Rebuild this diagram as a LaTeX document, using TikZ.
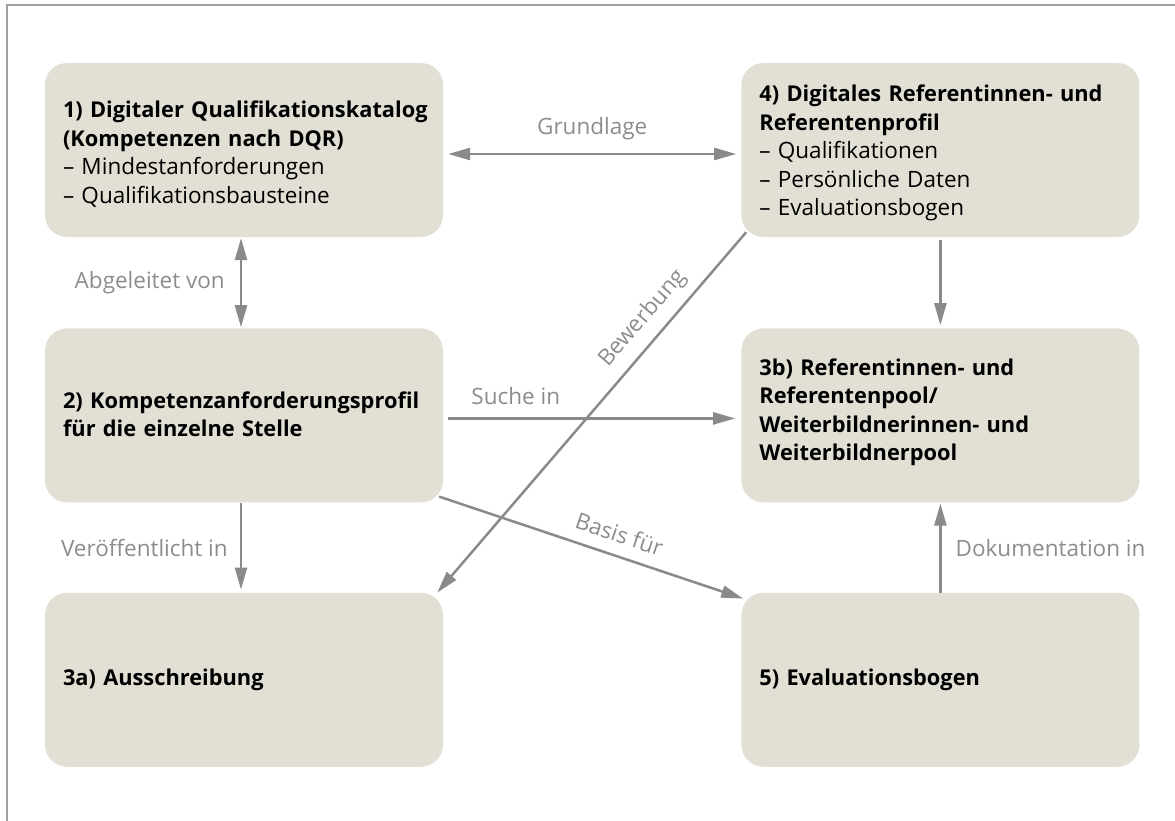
\documentclass[tikz,border=0pt]{standalone}
\usepackage{fontspec}
\setmainfont{Open Sans}
\usetikzlibrary{positioning, arrows.meta}
\definecolor{boxbeige}{RGB}{226,224,213}
\definecolor{arrowgray}{RGB}{138,138,140}
\definecolor{labelgray}{RGB}{140,140,140}
\definecolor{framegray}{RGB}{160,160,160}
\newcommand{\itemfont}{\fontsize{22.5}{28.5}\selectfont\mdseries}
\tikzset{
>={Triangle[length=22pt, width=12pt]}, % filled arrow heads
node distance=91pt and 298pt, % gaps between the boxes
box/.style={fill=boxbeige, rounded corners=22pt, minimum width=398pt, minimum height=174pt, inner sep=0pt},
boxtext/.style={text width=372pt, align=left, inner sep=0pt, font=\fontsize{21.8}{28.5}\selectfont\bfseries},
link/.style={draw=arrowgray, line width=2.5pt},
linklabel/.style={text=labelgray, inner sep=0pt, font=\fontsize{22.5}{24}\selectfont},
}
\begin{document}
\begin{tikzpicture}[x=1pt, y=-1pt]
      \useasboundingbox (0,0) rectangle (1175,821);
      \draw[framegray, line width=1.5pt] (1175,5) -- (7,5) -- (7,821);

      % the six boxes
      \node[box] (katalog) at (244,150) {};
      \node[box, right=of katalog] (profil) {};
      \node[box, below=of katalog] (stelle) {};
      \node[box, below=of profil] (pool) {};
      \node[box, below=90pt of stelle] (ausschreibung) {};
      \node[box, below=90pt of pool] (evaluation) {};

      % texts in the boxes
      \node[boxtext, anchor=west] (katalogtext) at ([xshift=18pt, yshift=-4pt]katalog.west)
      {1) Digitaler Qualifikationskatalog\\(Kompetenzen nach DQR)\\\itemfont – Mindestanforderungen\\– Qualifikationsbausteine};
      \node[boxtext, anchor=west] (profiltext) at ([xshift=18pt, yshift=-3pt]profil.west)
      {4) Digitales Referentinnen- und\\Referentenprofil\\\itemfont – Qualifikationen\\– Persönliche Daten\\– Evaluationsbogen};
      \node[boxtext, anchor=west] (stelletext) at ([xshift=18pt, yshift=1pt]stelle.west)
      {2) Kompetenzanforderungsprofil\\für die einzelne Stelle};
      \node[boxtext, anchor=west] (pooltext) at ([xshift=18pt, yshift=3pt]pool.west)
      {3b) Referentinnen- und\\Referentenpool/\\Weiterbildnerinnen- und\\Weiterbildnerpool};
      \node[boxtext, anchor=west] (ausschreibungtext) at ([xshift=18pt]ausschreibung.west)
      {3a) Ausschreibung};
      \node[boxtext, anchor=west] (evaluationtext) at ([xshift=18pt]evaluation.west)
      {5) Evaluationsbogen};

      % connectors
      \draw[link, <->, shorten <=5pt, shorten >=5pt] ([yshift=-4pt]katalog.east) --
      node[linklabel, above=13pt] (grundlage) {Grundlage} ([yshift=-4pt]profil.west);
      \draw[link, <->, shorten <=1pt, shorten >=1pt] ([xshift=-3pt]katalog.south) --
      node[linklabel, left=15pt] (abgeleitet) {Abgeleitet von} ([xshift=-3pt]stelle.north);
      \draw[link, ->, shorten >=3pt] ([xshift=-3pt]stelle.south) --
      node[linklabel, left=12pt] (veroeffentlicht) {Veröffentlicht in} ([xshift=-3pt]ausschreibung.north);
      \draw[link, ->, shorten <=5pt, shorten >=6pt] ([yshift=-3pt]stelle.east) --
      node[linklabel, pos=0, anchor=south west, xshift=27pt, yshift=12pt] (suche) {Suche in} ([yshift=-3pt]pool.west);
      \draw[link, ->] ([xshift=-4pt, yshift=6pt]stelle.south east) --
      node[linklabel, sloped, above=12pt, pos=0.57] (basis) {Basis für} ([xshift=2pt, yshift=-6pt]evaluation.north west);
      \draw[link, ->] ([xshift=5pt, yshift=5pt]profil.south west) --
      node[linklabel, sloped, above=10pt, pos=0.28] (bewerbung) {Bewerbung} ([xshift=-6pt]ausschreibung.north east);
      \draw[link, ->, shorten <=3pt, shorten >=3pt] (profil.south) -- (pool.north);
      \draw[link, ->, shorten >=1pt] (evaluation.north) --
      node[linklabel, right=14pt] (dokumentation) {Dokumentation in} (pool.south);
\end{tikzpicture}
\end{document}
